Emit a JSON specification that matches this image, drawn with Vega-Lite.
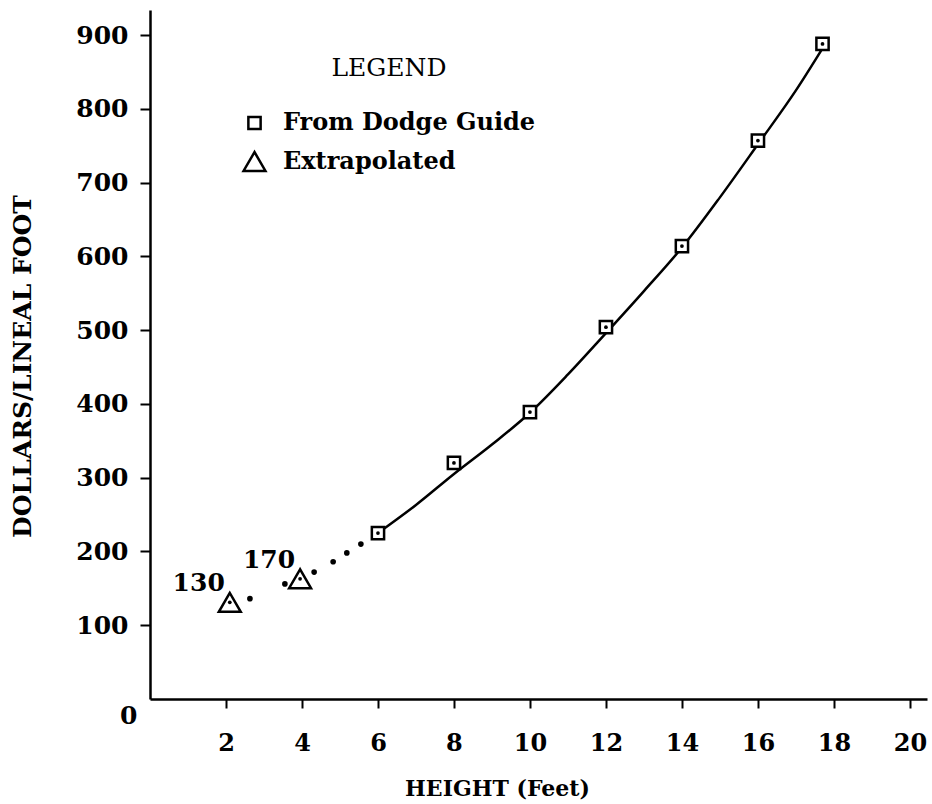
{
  "$schema": "https://vega.github.io/schema/vega-lite/v6.json",
  "autosize": {"type": "none"},
  "width": 777,
  "height": 689,
  "padding": {"left": 150, "top": 10, "right": 5, "bottom": 105},
  "background": "white",
  "config": {
    "view": {"stroke": null},
    "font": "DejaVu Serif",
    "axis": {"grid": false, "domainColor": "black", "tickColor": "black", "labelColor": "black", "titleColor": "black"},
    "legend": {
      "titleFont": "DejaVu Serif", "titleFontSize": 25, "titleFontWeight": "normal", "titleColor": "black",
      "labelFont": "DejaVu Serif", "labelFontSize": 24, "labelFontWeight": "bold", "labelColor": "black",
      "labelLimit": 500
    }
  },
  "datasets": {
    "curve": [
      {"h": 6, "c": 225}, {"h": 7, "c": 263}, {"h": 8, "c": 305}, {"h": 9, "c": 345},
      {"h": 10, "c": 388}, {"h": 11, "c": 440}, {"h": 12, "c": 496}, {"h": 13, "c": 553},
      {"h": 14, "c": 612}, {"h": 15, "c": 680}, {"h": 16, "c": 752}, {"h": 17, "c": 825},
      {"h": 17.7, "c": 882}
    ],
    "dots": [
      {"h": 2.63, "c": 136}, {"h": 3.55, "c": 156}, {"h": 4.32, "c": 172},
      {"h": 4.82, "c": 186}, {"h": 5.18, "c": 198}, {"h": 5.55, "c": 210}
    ],
    "points": [
      {"h": 6, "c": 225, "s": "From Dodge Guide"},
      {"h": 8, "c": 320, "s": "From Dodge Guide"},
      {"h": 10, "c": 389, "s": "From Dodge Guide"},
      {"h": 12, "c": 504, "s": "From Dodge Guide"},
      {"h": 14, "c": 614, "s": "From Dodge Guide"},
      {"h": 16, "c": 757, "s": "From Dodge Guide"},
      {"h": 17.7, "c": 888, "s": "From Dodge Guide"},
      {"h": 2.1, "c": 131, "s": "Extrapolated", "label": "130"},
      {"h": 3.95, "c": 163, "s": "Extrapolated", "label": "170"}
    ]
  },
  "encoding": {
    "x": {
      "field": "h", "type": "quantitative",
      "scale": {"domain": [0, 20.45], "nice": false, "zero": false},
      "axis": {
        "title": "HEIGHT (Feet)",
        "values": [2, 4, 6, 8, 10, 12, 14, 16, 18, 20],
        "tickSize": 9, "tickWidth": 2, "domainWidth": 2.5,
        "labelFont": "DejaVu Serif", "labelFontWeight": "bold", "labelFontSize": 24, "labelPadding": 23,
        "titleFont": "DejaVu Serif", "titleFontWeight": "bold", "titleFontSize": 22,
        "titleX": 347, "titleY": 89, "titleBaseline": "middle", "titleAlign": "center"
      }
    },
    "y": {
      "field": "c", "type": "quantitative",
      "scale": {"domain": [0, 934], "nice": false, "zero": false},
      "axis": {
        "title": "DOLLARS/LINEAL FOOT",
        "values": [0, 100, 200, 300, 400, 500, 600, 700, 800, 900],
        "tickSize": 10, "tickWidth": 2, "domainWidth": 2.5,
        "tickOpacity": {"condition": {"test": "datum.value === 0", "value": 0}, "value": 1},
        "labelOffset": {"condition": {"test": "datum.value === 0", "value": 16}, "value": 0},
        "labelPadding": {"condition": {"test": "datum.value === 0", "value": 3}, "value": 12},
        "labelFont": "DejaVu Serif", "labelFontWeight": "bold", "labelFontSize": 25,
        "titleFont": "DejaVu Serif", "titleFontWeight": "bold", "titleFontSize": 25,
        "titleX": -128, "titleY": 356, "titleBaseline": "middle", "titleAlign": "center", "titleAngle": 270
      }
    }
  },
  "layer": [
    {
      "data": {"name": "curve"},
      "mark": {"type": "line", "color": "black", "strokeWidth": 2.5, "interpolate": "monotone"},
      "encoding": {}
    },
    {
      "data": {"name": "dots"},
      "mark": {"type": "point", "filled": true, "color": "black", "size": 32, "opacity": 1},
      "encoding": {}
    },
    {
      "data": {"name": "points"},
      "mark": {"type": "point", "filled": false, "fill": "white", "fillOpacity": 1, "stroke": "black", "strokeWidth": 2.5, "opacity": 1},
      "encoding": {
        "shape": {
          "field": "s", "type": "nominal",
          "scale": {"domain": ["From Dodge Guide", "Extrapolated"], "range": ["square", "triangle-up"]},
          "legend": {
            "orient": "none", "legendX": 92, "legendY": 46,
            "title": "LEGEND", "titleAnchor": "middle", "titlePadding": 30,
            "labelOffset": 16, "rowPadding": 12, "padding": 0, "labelLimit": 500,
            "symbolStrokeColor": "black", "symbolFillColor": "white", "symbolStrokeWidth": 2.5
          }
        },
        "size": {
          "field": "s", "type": "nominal",
          "scale": {"domain": ["From Dodge Guide", "Extrapolated"], "range": [150, 480]}
        }
      }
    },
    {
      "data": {"name": "points"},
      "mark": {"type": "point", "filled": true, "color": "black", "size": 14, "opacity": 1},
      "encoding": {}
    },
    {
      "data": {"name": "points"},
      "transform": [{"filter": "isValid(datum.label)"}],
      "mark": {"type": "text", "font": "DejaVu Serif", "fontWeight": "bold", "fontSize": 25, "align": "right", "baseline": "middle", "dx": -5, "dy": -19, "color": "black"},
      "encoding": {"text": {"field": "label"}}
    }
  ]
}
